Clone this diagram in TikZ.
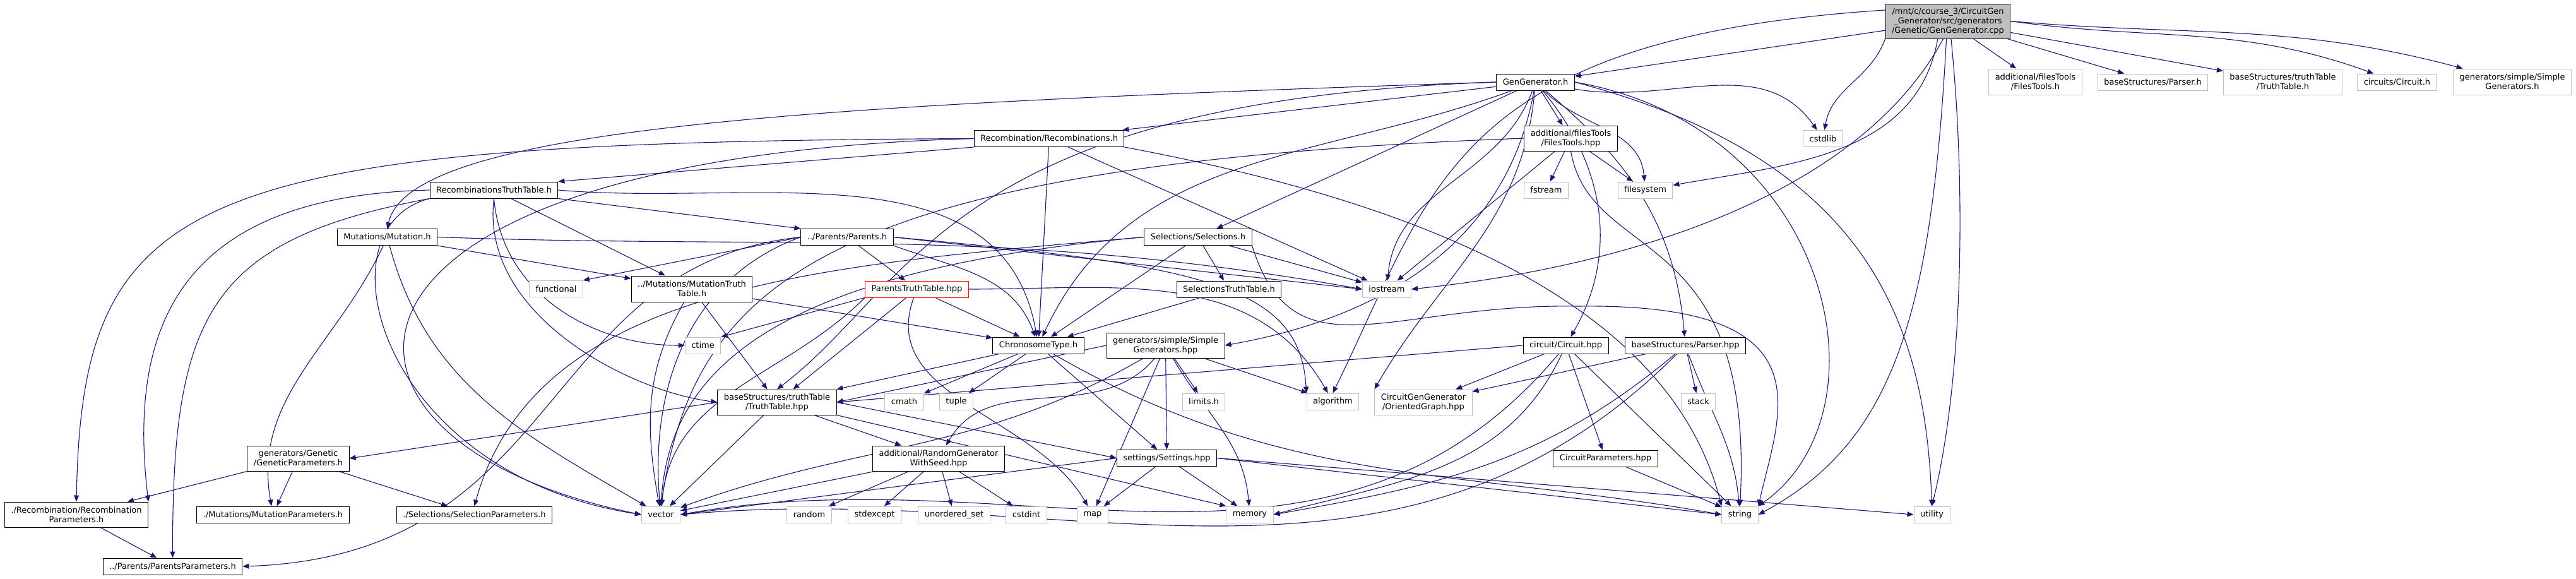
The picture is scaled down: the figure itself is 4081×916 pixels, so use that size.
\documentclass[tikz,border=0pt]{standalone}
\usepackage{fontspec}
\setmainfont{DejaVu Sans}
\usepackage{xcolor}
\usepackage{tikz}
\usetikzlibrary{arrows.meta, positioning, calc, backgrounds}
\definecolor{edgeblue}{HTML}{191970}
\definecolor{sysgray}{HTML}{BFBFBF}
\tikzset{
  hbox/.style={
    rectangle, draw=black, fill=white, line width=0.5pt,
    align=center, inner xsep=5pt, inner ysep=1pt,
    minimum height=#1,
    font=\fontsize{6.5}{7.5}\selectfont
  },
  hbox/.default=13pt,
  sysbox/.style={hbox=#1, draw=sysgray},
  sysbox/.default=13pt,
  redbox/.style={hbox, draw=red},
  rootbox/.style={hbox=27.5pt, fill=sysgray},
  dep/.style={
    -{Triangle[length=5pt, width=4pt]},
    draw=edgeblue, line width=0.55pt
  }
}
\begin{document}
\begin{tikzpicture}[x=0.5pt, y=-0.5pt]
\useasboundingbox (0,0) rectangle (4081,916);

%------------------------------------------------------
% NODES (rank by rank)
%------------------------------------------------------

% rank 0 / 1
\node[rootbox] (main) at (3086,33.5) {/mnt/c/course\_3/CircuitGen\\\_Generator/src/generators\\/Genetic/GenGenerator.cpp};
\node[hbox] (gengen) at (2432.5,130) {GenGenerator.h};
\node[sysbox=20.5pt] (filesH) at (3224.5,129.5) {additional/filesTools\\/FilesTools.h};
\node[sysbox] (parserH) at (3410.5,130) {baseStructures/Parser.h};
\node[sysbox=20.5pt] (truthH) at (3616.5,129.5) {baseStructures/truthTable\\/TruthTable.h};
\node[sysbox] (circuitsH) at (3797.5,130) {circuits/Circuit.h};
\node[sysbox=20.5pt] (simpleH) at (3980,129.5) {generators/simple/Simple\\Generators.h};

% rank 2 / 3
\node[hbox] (recomb) at (1662,219.5) {Recombination/Recombinations.h};
\node[hbox=20pt] (filesHpp) at (2488.5,219) {additional/filesTools\\/FilesTools.hpp};
\node[sysbox] (cstdlib) at (2888,219.5) {cstdlib};
\node[hbox] (recombTT) at (782.5,301) {RecombinationsTruthTable.h};
\node[sysbox] (fstream) at (2449.5,301) {fstream};
\node[sysbox] (filesystem) at (2606.5,301) {filesystem};

% rank 4 / 5
\node[hbox] (mutation) at (613.5,375.5) {Mutations/Mutation.h};
\node[hbox] (parents) at (1342,375.5) {../Parents/Parents.h};
\node[hbox] (selections) at (1898,375.5) {Selections/Selections.h};
\node[sysbox] (functional) at (881,457.5) {functional};
\node[hbox=20.5pt] (mutationTT) at (1096,457.5) {../Mutations/MutationTruth\\Table.h};
\node[redbox] (parentsTT) at (1452.5,458) {ParentsTruthTable.hpp};
\node[hbox] (selectionsTT) at (1947,458) {SelectionsTruthTable.h};
\node[sysbox] (iostream) at (2197,458) {iostream};

% rank 6 / 7
\node[sysbox] (ctime) at (1113.5,547) {ctime};
\node[hbox] (chronosome) at (1645,547) {ChronosomeType.h};
\node[hbox=20pt] (simpleHpp) at (1846.5,547) {generators/simple/Simple\\Generators.hpp};
\node[hbox] (circuit) at (2480.5,547) {circuit/Circuit.hpp};
\node[hbox] (parser) at (2670,547) {baseStructures/Parser.hpp};
\node[hbox=20pt] (truthHpp) at (1231,637) {baseStructures/truthTable\\/TruthTable.hpp};
\node[sysbox] (cmath) at (1432.5,636) {cmath};
\node[sysbox] (tuple) at (1515,636) {tuple};
\node[sysbox] (limits) at (1907,636) {limits.h};
\node[sysbox] (algorithm) at (2111.5,636) {algorithm};
\node[sysbox=20pt] (oriented) at (2255,637) {CircuitGenGenerator\\/OrientedGraph.hpp};
\node[sysbox] (stack) at (2690.5,636) {stack};

% rank 8
\node[hbox=20pt] (geneticPar) at (472.5,726) {generators/Genetic\\/GeneticParameters.h};
\node[hbox=20pt] (randGen) at (1487,726) {additional/RandomGenerator\\WithSeed.hpp};
\node[hbox] (settings) at (1848.5,725.5) {settings/Settings.hpp};
\node[hbox] (circuitPar) at (2543.5,726) {CircuitParameters.hpp};

% rank 9 / 10
\node[hbox=20pt] (recombPar) at (121,815) {./Recombination/Recombination\\Parameters.h};
\node[hbox] (mutationPar) at (432.5,815) {./Mutations/MutationParameters.h};
\node[hbox] (selectionPar) at (751.5,815) {./Selections/SelectionParameters.h};
\node[sysbox] (vector) at (1047,815) {vector};
\node[sysbox] (random) at (1282,815) {random};
\node[sysbox] (stdexcept) at (1385.5,815) {stdexcept};
\node[sysbox] (unorderedset) at (1511.5,815) {unordered\_set};
\node[sysbox] (cstdint) at (1626,815) {cstdint};
\node[sysbox] (map) at (1731,815) {map};
\node[sysbox] (memory) at (1980,815) {memory};
\node[sysbox] (string) at (2756.5,815) {string};
\node[sysbox] (utility) at (3060.5,815) {utility};
\node[hbox] (parentsPar) at (273.5,897) {../Parents/ParentsParameters.h};

%------------------------------------------------------
% EDGES (behind the boxes)
%------------------------------------------------------
\begin{scope}[on background layer]

% GenGenerator.cpp
\draw[dep] (main) -- (gengen);
\draw[dep] (main.170) .. controls (2300,60) and (2270,300) .. (algorithm.north);
\draw[dep] (main.south west) to[out=-110,in=80] (cstdlib);
\draw[dep] (main.-120) to[out=-100,in=10] (filesystem);
\draw[dep] (main.-105) .. controls (2950,300) and (2600,420) .. (iostream.east);
\draw[dep] (main.-95) .. controls (3060,500) and (3000,700) .. (string.east);
\draw[dep] (main.-80) .. controls (3115,300) and (3110,600) .. (utility.north);
\draw[dep] (main) -- (filesH);
\draw[dep] (main) -- (parserH);
\draw[dep] (main) -- (truthH);
\draw[dep] (main.east) to[out=-8,in=160] (circuitsH);
\draw[dep] (main.east) to[out=-5,in=165] (simpleH);

% GenGenerator.h
\draw[dep] (gengen) -- (recomb);
\draw[dep] (gengen.west) .. controls (1300,165) and (650,200) .. (mutation.north);
\draw[dep] (gengen) -- (selections);
\draw[dep] (gengen) to[out=-160,in=65] (chronosome);
\draw[dep] (gengen.west) .. controls (1500,160) and (1450,450) .. (truthHpp.north);
\draw[dep] (gengen) -- (filesHpp);
\draw[dep] (gengen) to[out=-10,in=125] (cstdlib);
\draw[dep] (gengen) to[out=-45,in=95] (filesystem);
\draw[dep] (gengen) to[out=-110,in=85] (iostream);
\draw[dep] (gengen.east) .. controls (2900,200) and (3000,650) .. (string.north east);
\draw[dep] (gengen.east) .. controls (2950,250) and (3050,500) .. (utility.north);
\draw[dep] (gengen) to[out=-50,in=60] (circuit);
\draw[dep] (gengen) to[out=-40,in=95] (parser);
\draw[dep] (gengen) to[out=-100,in=10] (simpleHpp.east);
\draw[dep] (gengen) to[out=-95,in=60] (oriented.north west);

% Recombinations.h
\draw[dep] (recomb.south west) -- (recombTT.north east);
\draw[dep] (recomb.west) .. controls (300,225) and (130,300) .. (recombPar.north);
\draw[dep] (recomb.west) .. controls (450,250) and (450,700) .. (vector.west);
\draw[dep] (recomb) -- (chronosome);
\draw[dep] (recomb) -- (iostream);
\draw[dep] (recomb.south east) .. controls (2300,330) and (2650,500) .. (string.north west);

% RecombinationsTruthTable.h
\draw[dep] (recombTT.west) .. controls (300,310) and (200,500) .. (recombPar.north east);
\draw[dep] (recombTT.south west) .. controls (330,380) and (273,500) .. (parentsPar.north);
\draw[dep] (recombTT.south west) .. controls (500,360) and (600,750) .. (vector.west);
\draw[dep] (recombTT.south) .. controls (760,500) and (1000,620) .. (truthHpp.west);
\draw[dep] (recombTT.south) to[out=-85,in=180] (ctime);
\draw[dep] (recombTT) -- (mutationTT);
\draw[dep] (recombTT.south east) -- (parents.north west);
\draw[dep] (recombTT.east) to[out=-5,in=100] (chronosome);

% Mutation.h
\draw[dep] (mutation) -- (mutationTT);
\draw[dep] (mutation) to[out=-115,in=100] (mutationPar);
\draw[dep] (mutation) to[out=-75,in=150] (vector);
\draw[dep] (mutation.east) to[out=-2,in=170] (iostream.west);

% Parents.h
\draw[dep] (parents) -- (parentsTT);
\draw[dep] (parents.west) -- (functional.north east);
\draw[dep] (parents.west) to[out=200,in=95] (vector);
\draw[dep] (parents.west) .. controls (850,420) and (900,880) .. (parentsPar.east);
\draw[dep] (parents.south east) to[out=-20,in=110] (chronosome);
\draw[dep] (parents.east) -- (iostream.west);
\draw[dep] (parents.east) .. controls (1900,420) and (2060,450) .. (algorithm.north west);

% ParentsTruthTable.hpp
\draw[dep] (parentsTT) -- (chronosome);
\draw[dep] (parentsTT) -- (truthHpp);
\draw[dep] (parentsTT.south west) -- (ctime.north east);
\draw[dep] (parentsTT.south west) to[out=-135,in=85] (vector);
\draw[dep] (parentsTT) to[out=-110,in=120] (map);
\draw[dep] (parentsTT.east) to[out=0,in=120] (algorithm);

% Selections.h
\draw[dep] (selections) -- (selectionsTT);
\draw[dep] (selections) -- (chronosome);
\draw[dep] (selections.west) .. controls (1300,420) and (850,450) .. (selectionPar.north);
\draw[dep] (selections.west) .. controls (1200,430) and (1060,600) .. (vector.north);
\draw[dep] (selections) -- (iostream);
\draw[dep] (selections.south east) .. controls (2050,600) and (2200,480) .. (2500,485)
  .. controls (2900,480) and (2820,650) .. (string.north east);

% SelectionsTruthTable.h, MutationTruthTable.h
\draw[dep] (selectionsTT) -- (chronosome);
\draw[dep] (mutationTT) -- (truthHpp);
\draw[dep] (mutationTT) -- (chronosome);
\draw[dep] (mutationTT) to[out=-120,in=100] (vector);

% ChronosomeType.h
\draw[dep] (chronosome) -- (truthHpp);
\draw[dep] (chronosome) -- (cmath);
\draw[dep] (chronosome) -- (tuple);
\draw[dep] (chronosome) -- (settings);
\draw[dep] (chronosome) to[out=-30,in=170] (string.west);

% SimpleGenerators.hpp
\draw[dep] (simpleHpp.west) -- (truthHpp.east);
\draw[dep] (simpleHpp) to[out=-130,in=60] (randGen);
\draw[dep] (simpleHpp) to[out=-150,in=20] (vector);
\draw[dep] (simpleHpp) -- (map);
\draw[dep] (simpleHpp) -- (settings);
\draw[dep] (simpleHpp) -- (limits);
\draw[dep] (simpleHpp) to[out=-60,in=95] (memory);
\draw[dep] (simpleHpp) -- (algorithm);

% TruthTable.hpp
\draw[dep] (truthHpp.west) -- (geneticPar.east);
\draw[dep] (truthHpp) -- (vector);
\draw[dep] (truthHpp) -- (randGen);
\draw[dep] (truthHpp.east) -- (settings.west);
\draw[dep] (truthHpp.south east) -- (memory.north west);

% RandomGeneratorWithSeed.hpp
\draw[dep] (randGen) -- (vector);
\draw[dep] (randGen) -- (random);
\draw[dep] (randGen) -- (stdexcept);
\draw[dep] (randGen) -- (unorderedset);
\draw[dep] (randGen) -- (cstdint);

% Settings.hpp
\draw[dep] (settings.west) -- (vector.east);
\draw[dep] (settings) -- (map);
\draw[dep] (settings) -- (memory);
\draw[dep] (settings.east) -- (string.west);
\draw[dep] (settings.east) -- (utility.west);

% FilesTools.hpp
\draw[dep] (filesHpp) -- (fstream);
\draw[dep] (filesHpp) -- (filesystem);
\draw[dep] (filesHpp) -- (iostream);
\draw[dep] (filesHpp.south) .. controls (2520,420) and (2780,350) .. (string.north);
\draw[dep] (filesHpp.west) .. controls (1300,260) and (1100,450) .. (vector.north);

% Circuit.hpp
\draw[dep] (circuit.west) -- (truthHpp.east);
\draw[dep] (circuit) -- (oriented);
\draw[dep] (circuit) to[out=-130,in=10] (vector.east);
\draw[dep] (circuit) to[out=-115,in=15] (memory.east);
\draw[dep] (circuit) -- (circuitPar);
\draw[dep] (circuit) -- (string);

% Parser.hpp
\draw[dep] (parser) -- (oriented);
\draw[dep] (parser) to[out=-135,in=5] (vector.east);
\draw[dep] (parser) to[out=-140,in=10] (memory.east);
\draw[dep] (parser) -- (stack);
\draw[dep] (parser) to[out=-70,in=95] (string);

% parameter headers
\draw[dep] (circuitPar) -- (string);
\draw[dep] (geneticPar) -- (recombPar);
\draw[dep] (geneticPar) -- (mutationPar);
\draw[dep] (geneticPar) -- (selectionPar);
\draw[dep] (recombPar) -- (parentsPar);

\end{scope}
\end{tikzpicture}
\end{document}
